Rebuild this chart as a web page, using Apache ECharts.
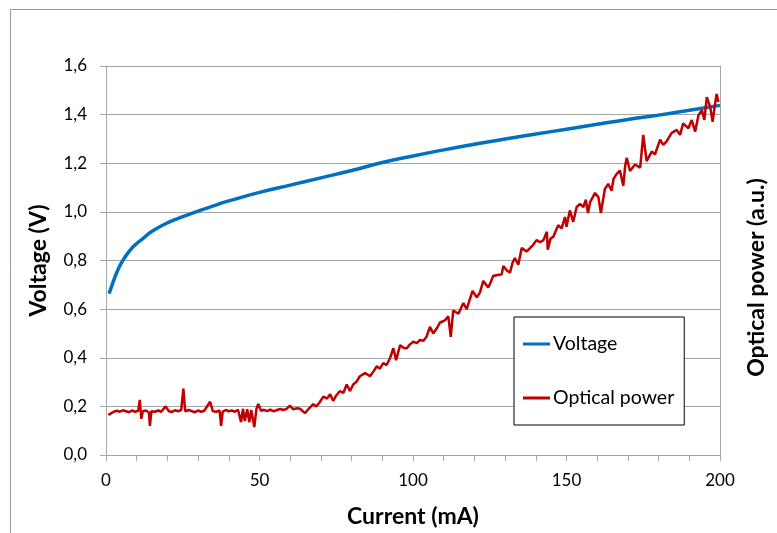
<!DOCTYPE html>
<html><head><meta charset="utf-8">
<script src="https://cdn.jsdelivr.net/npm/echarts@6/dist/echarts.min.js"></script>
<style>html,body{margin:0;padding:0;background:#fff}#c{width:777px;height:533px}</style>
</head><body><div id="c"></div>
<script>
// Voltage curve (current mA, voltage V)
const voltCurrent = [1,2,3,4,5,6,8,10,12,15,20,25,30,35,40,50,60,70,80,90,100,110,120,130,140,150,160,170,180,190,200];
const voltValues  = [0.664,0.70,0.735,0.765,0.79,0.81,0.845,0.87,0.89,0.92,0.955,0.98,1.003,1.025,1.045,1.08,1.11,1.14,1.17,1.203,1.23,1.255,1.278,1.30,1.32,1.34,1.36,1.38,1.398,1.418,1.438];

// Optical power (current mA, a.u. on the same visual scale)
const optCurrent = [0.75,1.5,2.5,3.5,4.5,5.5,6.5,7.5,8.5,9.5,10.5,11,11.5,12,13,14,14.3,14.8,16,17,18,19.4,20.5,21.5,22.5,23.5,24.5,25.2,25.8,27,28,29,30,31,32,33.9,34.8,36,37,37.5,38,39,40,41,42,43,44,44.6,45.2,46,46.7,47.3,48.3,49,49.6,50.5,51.5,52.5,53.5,54.5,55.5,56.7,57.8,58.8,59.9,61,62,63.2,64.8,66,67.5,68.5,69.5,70.8,72,73,74,75,76.2,77.3,78.4,79.5,80.5,81.5,82.7,84.4,86,87.2,88.2,89.2,90.3,91.4,92.5,93.6,94.5,95.8,97,98,99,100.1,101.2,102.3,103.4,104.4,105.5,106.6,107.7,108.8,110.4,111.5,112.3,113.1,113.7,114.8,116.4,117.5,118.5,119.4,120.8,121.8,122.9,124.5,125.3,126.1,127.5,128.9,129.4,130.5,131.6,132.4,133.2,134.3,135.4,137,138.7,140.3,141.4,142.5,143.6,143.9,144.8,145.7,147.3,148.4,149.5,150,151.1,152.2,153.3,154.4,155.5,156.3,157,157.7,159.3,160.4,161.2,162.5,163.6,164.7,165.3,166.3,167.4,168.5,169.1,169.6,170.7,172.3,174,175,176.1,177.8,178.8,180.5,181.5,182.6,184.2,185.9,187,188,189.7,190.8,191.9,193,194.1,194.9,195.7,196.8,197.6,198.4,198.9,199.5];
const optValues  = [0.165,0.17,0.178,0.182,0.178,0.184,0.18,0.176,0.183,0.178,0.182,0.227,0.149,0.18,0.183,0.175,0.12,0.18,0.178,0.183,0.178,0.2,0.18,0.177,0.184,0.18,0.185,0.273,0.18,0.185,0.18,0.176,0.183,0.178,0.182,0.219,0.18,0.178,0.183,0.12,0.178,0.185,0.18,0.183,0.178,0.186,0.135,0.19,0.14,0.188,0.135,0.185,0.115,0.19,0.21,0.182,0.186,0.18,0.187,0.18,0.184,0.189,0.185,0.19,0.203,0.188,0.192,0.19,0.172,0.19,0.209,0.2,0.215,0.24,0.232,0.25,0.223,0.245,0.263,0.255,0.29,0.263,0.29,0.3,0.324,0.337,0.324,0.345,0.365,0.355,0.378,0.37,0.398,0.439,0.39,0.452,0.44,0.439,0.455,0.466,0.46,0.473,0.47,0.486,0.527,0.5,0.52,0.545,0.554,0.57,0.486,0.594,0.6,0.581,0.625,0.6,0.64,0.675,0.648,0.668,0.716,0.689,0.71,0.736,0.74,0.743,0.777,0.76,0.75,0.79,0.81,0.783,0.851,0.837,0.858,0.884,0.875,0.884,0.918,0.844,0.89,0.898,0.945,0.932,0.979,0.939,1.006,0.959,1.02,1.033,1.02,1.05,0.995,1.04,1.078,1.06,0.995,1.094,1.115,1.087,1.135,1.155,1.17,1.107,1.188,1.222,1.168,1.195,1.182,1.317,1.209,1.249,1.236,1.297,1.276,1.29,1.324,1.337,1.317,1.364,1.344,1.378,1.33,1.398,1.418,1.378,1.472,1.432,1.37,1.445,1.485,1.452];

const xLabelStep = 50;
const FONT = 'Lato';

const chart = echarts.init(document.getElementById('c'), null, {renderer:'canvas'});
const grey = '#a6a6a6';
const titleStyle = {fontFamily:FONT, fontSize:23, fontWeight:'bold', color:'#000'};
chart.setOption({
  animation:false,
  textStyle:{fontFamily:FONT},
  graphic:[{type:'rect', shape:{x:10.5,y:9.5,width:900,height:700}, style:{fill:null, stroke:'#999', lineWidth:1}, silent:true}],
  grid:{left:106, right:57, top:66, bottom:72, containLabel:false},
  legend:{
    orient:'vertical', left:514, top:317,
    padding:[17,10,17,9], itemGap:34, itemWidth:27, itemHeight:3, icon:'rect',
    borderColor:'#000', borderWidth:1, backgroundColor:'#fff',
    textStyle:{fontFamily:FONT, fontSize:19.5, lineHeight:20, color:'#000', padding:[0,0,0,-2]},
    data:['Voltage','Optical power']
  },
  xAxis:{
    type:'value', min:0, max:200, interval:10,
    name:'Current (mA)', nameLocation:'middle', nameGap:50,
    nameTextStyle:titleStyle,
    axisLine:{lineStyle:{color:grey}},
    axisTick:{show:true, length:6, lineStyle:{color:grey}},
    axisLabel:{color:'#000', fontSize:17, margin:17, formatter:v=> (v % xLabelStep === 0 ? String(v) : '')},
    splitLine:{show:false}
  },
  yAxis:[{
    type:'value', min:0, max:1.6, interval:0.2,
    name:'Voltage (V)', nameLocation:'middle', nameGap:56, nameRotate:90,
    nameTextStyle:titleStyle,
    axisLine:{show:true, lineStyle:{color:grey}},
    axisTick:{show:true, length:6, lineStyle:{color:grey}},
    axisLabel:{color:'#000', fontSize:17, margin:19, formatter:v=>v.toFixed(1).replace('.',',')},
    splitLine:{show:true, lineStyle:{color:grey, width:1}}
  },{
    type:'value', min:0, max:1.6, interval:0.2, position:'right',
    name:'Optical power (a.u.)', nameLocation:'middle', nameGap:25, nameRotate:90,
    nameTextStyle:Object.assign({}, titleStyle, {padding:[0,34,0,0]}),
    axisLine:{show:true, lineStyle:{color:grey}},
    axisTick:{show:false}, axisLabel:{show:false}, splitLine:{show:false}
  }],
  series:[{
    name:'Voltage', type:'line', yAxisIndex:0, symbol:'none', smooth:true,
    lineStyle:{color:'#0070C0', width:3.5}, itemStyle:{color:'#0070C0'},
    data: voltCurrent.map((c,i)=>[c, voltValues[i]]), z:2
  },{
    name:'Optical power', type:'line', yAxisIndex:1, symbol:'none',
    lineStyle:{color:'#C00000', width:2.5}, itemStyle:{color:'#C00000'},
    data: optCurrent.map((c,i)=>[c, optValues[i]]), z:3
  }]
});
</script></body></html>
